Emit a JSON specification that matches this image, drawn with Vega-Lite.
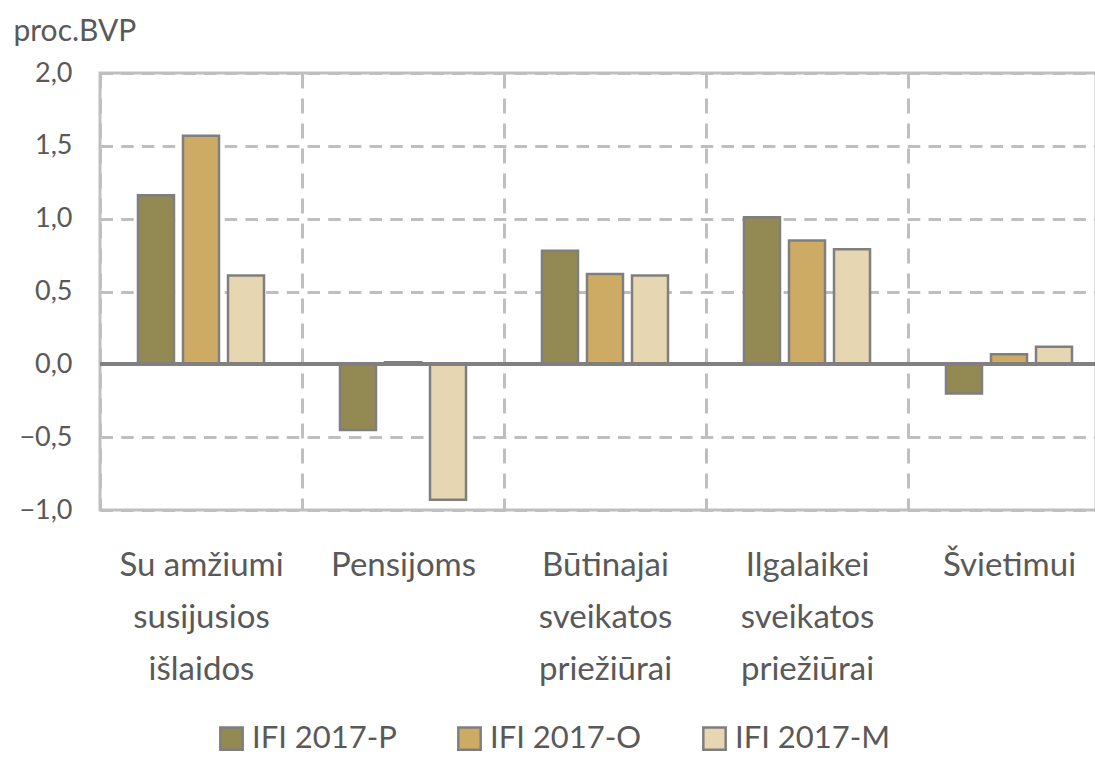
{
  "$schema": "https://vega.github.io/schema/vega-lite/v6.json",
  "width": 996,
  "height": 437,
  "autosize": {"type": "none"},
  "padding": {"left": 100, "top": 73, "right": 0, "bottom": 248},
  "background": "white",
  "config": {
    "view": {"stroke": "#BFBFBF", "strokeWidth": 3},
    "font": "Lato"
  },
  "data": {
    "values": [
      {"kategorija": "Su amžiumi susijusios išlaidos", "scenarijus": "IFI 2017-P", "reiksme": 1.16},
      {"kategorija": "Su amžiumi susijusios išlaidos", "scenarijus": "IFI 2017-O", "reiksme": 1.57},
      {"kategorija": "Su amžiumi susijusios išlaidos", "scenarijus": "IFI 2017-M", "reiksme": 0.61},
      {"kategorija": "Pensijoms", "scenarijus": "IFI 2017-P", "reiksme": -0.45},
      {"kategorija": "Pensijoms", "scenarijus": "IFI 2017-O", "reiksme": 0.015},
      {"kategorija": "Pensijoms", "scenarijus": "IFI 2017-M", "reiksme": -0.93},
      {"kategorija": "Būtinajai sveikatos priežiūrai", "scenarijus": "IFI 2017-P", "reiksme": 0.78},
      {"kategorija": "Būtinajai sveikatos priežiūrai", "scenarijus": "IFI 2017-O", "reiksme": 0.62},
      {"kategorija": "Būtinajai sveikatos priežiūrai", "scenarijus": "IFI 2017-M", "reiksme": 0.61},
      {"kategorija": "Ilgalaikei sveikatos priežiūrai", "scenarijus": "IFI 2017-P", "reiksme": 1.01},
      {"kategorija": "Ilgalaikei sveikatos priežiūrai", "scenarijus": "IFI 2017-O", "reiksme": 0.85},
      {"kategorija": "Ilgalaikei sveikatos priežiūrai", "scenarijus": "IFI 2017-M", "reiksme": 0.79},
      {"kategorija": "Švietimui", "scenarijus": "IFI 2017-P", "reiksme": -0.2},
      {"kategorija": "Švietimui", "scenarijus": "IFI 2017-O", "reiksme": 0.07},
      {"kategorija": "Švietimui", "scenarijus": "IFI 2017-M", "reiksme": 0.12}
    ]
  },
  "layer": [
    {
      "mark": {"type": "bar", "stroke": "#7F7F7F", "strokeWidth": 2.5},
      "encoding": {
        "x": {
          "field": "kategorija",
          "type": "nominal",
          "sort": null,
          "scale": {"range": [0, 1010], "paddingInner": 0, "paddingOuter": 0},
          "axis": {
            "title": null,
            "domain": false,
            "ticks": false,
            "tickBand": "extent",
            "grid": true,
            "gridColor": "#BFBFBF",
            "gridDash": [15, 10],
            "gridWidth": 3,
            "labelAngle": 0,
            "labelFont": "Lato",
            "labelFontSize": 33,
            "labelColor": "#595959",
            "labelPadding": 39,
            "labelLineHeight": 52,
            "labelBaseline": "top",
            "labelLimit": 0,
            "labelExpr": "datum.value == 'Su amžiumi susijusios išlaidos' ? ['Su amžiumi', 'susijusios', 'išlaidos'] : datum.value == 'Būtinajai sveikatos priežiūrai' ? ['Būtinajai', 'sveikatos', 'priežiūrai'] : datum.value == 'Ilgalaikei sveikatos priežiūrai' ? ['Ilgalaikei', 'sveikatos', 'priežiūrai'] : datum.label"
          }
        },
        "xOffset": {
          "field": "scenarijus",
          "type": "nominal",
          "sort": ["IFI 2017-P", "IFI 2017-O", "IFI 2017-M"],
          "scale": {"paddingInner": 0.2, "paddingOuter": 0.844}
        },
        "y": {
          "field": "reiksme",
          "type": "quantitative",
          "scale": {"domain": [-1, 2], "nice": false, "zero": false},
          "axis": {
            "title": "proc.BVP",
            "titleAngle": 0,
            "titleX": -87,
            "titleY": -33,
            "titleAlign": "left",
            "titleBaseline": "alphabetic",
            "titleFont": "Lato",
            "titleFontSize": 30,
            "titleFontWeight": "normal",
            "titleColor": "#595959",
            "values": [-1, -0.5, 0, 0.5, 1, 1.5, 2],
            "labelExpr": "replace(replace(format(datum.value, '.1f'), '.', ','), '-', '−')",
            "domain": false,
            "ticks": false,
            "grid": true,
            "gridColor": "#BFBFBF",
            "gridDash": [12.5, 8.2],
            "gridWidth": 3,
            "labelFont": "Lato",
            "labelFontSize": 27,
            "labelColor": "#595959",
            "labelPadding": 28
          }
        },
        "color": {
          "field": "scenarijus",
          "type": "nominal",
          "sort": ["IFI 2017-P", "IFI 2017-O", "IFI 2017-M"],
          "scale": {
            "domain": ["IFI 2017-P", "IFI 2017-O", "IFI 2017-M"],
            "range": ["#938953", "#CEAB64", "#E6D6B1"]
          },
          "legend": {
            "orient": "none",
            "legendX": 116,
            "legendY": 650,
            "direction": "horizontal",
            "title": null,
            "symbolType": "square",
            "symbolSize": 500,
            "symbolStrokeColor": "#7F7F7F",
            "symbolStrokeWidth": 2.5,
            "symbolOpacity": 1,
            "labelFont": "Lato",
            "labelFontSize": 31,
            "labelColor": "#595959",
            "labelOffset": 5,
            "labelLimit": 0,
            "columnPadding": 56,
            "padding": 0
          }
        }
      }
    },
    {
      "mark": {"type": "rule", "color": "#808080", "strokeWidth": 3},
      "encoding": {"y": {"datum": 0}}
    }
  ]
}
